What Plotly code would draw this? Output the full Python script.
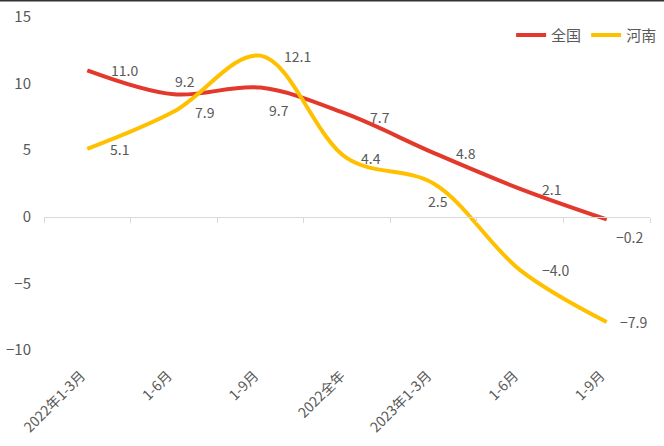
import plotly.graph_objects as go

categories = ["2022年1-3月", "1-6月", "1-9月", "2022全年", "2023年1-3月", "1-6月", "1-9月"]
national = [11.0, 9.2, 9.7, 7.7, 4.8, 2.1, -0.2]
henan = [5.1, 7.9, 12.1, 4.4, 2.5, -4.0, -7.9]
y_ticks = [15, 10, 5, 0, -5, -10]

# label offsets in pixels (style only)
nat_off = [(37, 0), (11, 13), (19, -22), (33, -3), (32, 0), (31, 0), (23, -18)]
hen_off = [(32, 0), (31, 0), (37, 0), (24, 0), (4, -17), (35, 0), (27, 0)]

RED = "#E2392C"
GOLD = "#FFC000"
GREY = "#595959"


def fmt(v):
    s = f"{abs(v):.1f}"
    return ("−" + s) if v < 0 else s


x = list(range(len(categories)))

fig = go.Figure()
fig.add_trace(go.Scatter(x=x, y=national, name="全国", mode="lines",
                         line=dict(color=RED, width=4, shape="spline", smoothing=1.0)))
fig.add_trace(go.Scatter(x=x, y=henan, name="河南", mode="lines",
                         line=dict(color=GOLD, width=4, shape="spline", smoothing=1.0)))
# invisible trace to drive the overlay axis at y=0
fig.add_trace(go.Scatter(x=x, y=national, xaxis="x2", mode="none", showlegend=False,
                         hoverinfo="skip"))

annots = []
for vals, offs in ((national, nat_off), (henan, hen_off)):
    for i, v in enumerate(vals):
        annots.append(dict(x=x[i], y=v, text=fmt(v), showarrow=False,
                           xshift=offs[i][0], yshift=offs[i][1],
                           font=dict(family="Noto Sans CJK SC", size=14, color=GREY)))

fig.update_layout(
    width=664, height=446,
    margin=dict(l=44, r=14, t=17, b=96, autoexpand=False),
    paper_bgcolor="white", plot_bgcolor="white",
    font=dict(family="Noto Sans CJK SC", size=14, color=GREY),
    showlegend=True,
    legend=dict(orientation="h", x=1.02, xanchor="right", y=0.995, yanchor="top",
                font=dict(size=15, color=GREY), bgcolor="rgba(0,0,0,0)",
                itemwidth=30, tracegroupgap=0),
    xaxis=dict(range=[-0.5, 6.5], tickmode="array", tickvals=x, ticktext=categories,
               tickangle=-45, showgrid=False, zeroline=False, showline=False,
               ticks="", ticklabelstandoff=14, ticklabelshift=-6, automargin=False,
               tickfont=dict(size=14, color=GREY)),
    xaxis2=dict(range=[-0.5, 6.5], overlaying="x", anchor="free", position=0.4,
                side="bottom", showline=True, linecolor="#D9D9D9", linewidth=1,
                tickmode="array", tickvals=[i - 0.5 for i in range(len(categories) + 1)],
                ticks="outside", ticklen=5, tickcolor="#D9D9D9", showticklabels=False,
                showgrid=False, zeroline=False, automargin=False),
    yaxis=dict(range=[-10, 15], tickmode="array", tickvals=y_ticks,
               ticktext=[f"{t}" if t >= 0 else f"−{abs(t)}" for t in y_ticks],
               showgrid=False, zeroline=False, showline=False, ticks="",
               ticklabelstandoff=12, automargin=False,
               tickfont=dict(size=15, color=GREY)),
    annotations=annots,
    shapes=[dict(type="line", xref="paper", yref="paper", x0=-0.08, x1=1.03,
                 y0=1 + 16.5 / 333, y1=1 + 16.5 / 333,
                 line=dict(color="#333333", width=2))],
)

fig.write_html("out.html", config={"displayModeBar": False},
               post_script="document.body.style.margin='0';")
